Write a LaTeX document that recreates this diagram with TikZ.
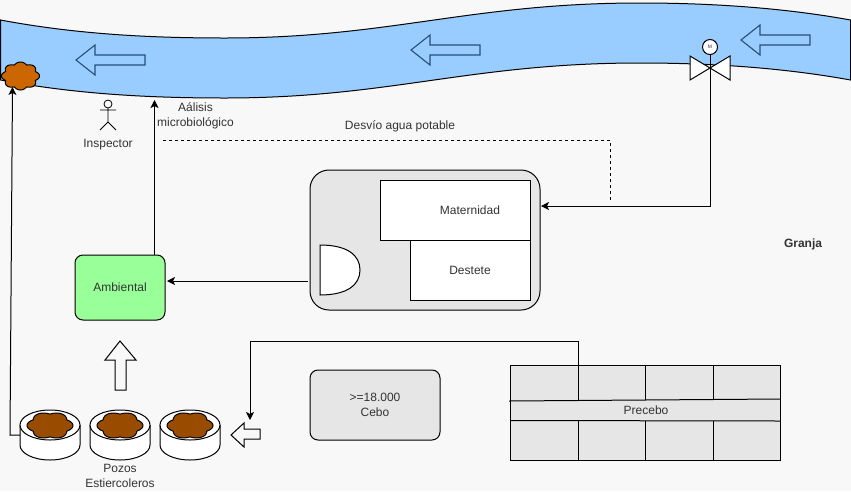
\documentclass[tikz,border=0pt]{standalone}
\usepackage{fontspec}
\setmainfont{Liberation Sans}
\usetikzlibrary{arrows.meta,calc}
\definecolor{bgc}{HTML}{F8F8F8}
\definecolor{river}{HTML}{99CCFF}
\definecolor{grayfill}{HTML}{E6E6E6}
\definecolor{txt}{HTML}{333333}
\definecolor{amb}{HTML}{99FF99}
\definecolor{waste}{HTML}{CC6600}
\definecolor{sludge}{HTML}{994C00}
\definecolor{flow}{HTML}{274F78}
\tikzset{
  lbl/.style={font=\fontsize{12}{15}\selectfont,text=txt,align=center,inner sep=0pt},
  box/.style={draw=black,line width=1pt,inner sep=0pt,outer sep=0pt,font=\fontsize{12}{15}\selectfont,text=txt,align=center},
  conn/.style={draw=black,line width=1pt,-{Stealth[length=8pt,width=8pt,inset=2pt]}},
  plain/.style={draw=black,line width=1pt},
  hollow/.style={draw=flow,line width=1.1pt,fill=river,line join=miter},
  hollowb/.style={draw=black,line width=1pt,fill=bgc,line join=miter},
  pit/.style={inner sep=0pt,outer sep=0pt,minimum width=60pt,minimum height=50pt}
}
% lobed blob: centre x, centre y, half width, half height, lobes/2, colour
\newcommand{\lobed}[6]{%
  \draw[plain,fill=#6,line join=round] plot[domain=0:360,samples=145] ({#1+#3*(0.84+0.16*abs(cos(#5*\x)))*cos(\x)},{#2+#4*(0.84+0.16*abs(cos(#5*\x)))*sin(\x)}) -- cycle;
}
\newcommand{\pitshape}[2]{% name, centre x
  \node[pit] (#1) at (#2,435) {};
  \draw[plain,fill=white] (#2-30,425) -- (#2-30,445) arc[start angle=180,end angle=0,x radius=30,y radius=15] -- (#2+30,425);
  \draw[plain,fill=white] (#2,425) ellipse[x radius=30,y radius=15];
  \lobed{#2}{425.5}{23}{13.5}{3}{sludge}
}
\begin{document}
\begin{tikzpicture}[x=1pt,y=-1pt]
\useasboundingbox (0,0) rectangle (851,491);
\fill[bgc] (0,0) rectangle (851,491);
% river
\fill[river] (0,20) .. controls (70,33) and (140,38) .. (225,38) .. controls (390,38) and (470,3) .. (640,3) .. controls (720,3) and (790,9) .. (851,20)
  -- (851,80) .. controls (790,69) and (720,63) .. (640,63) .. controls (470,63) and (390,98) .. (225,98) .. controls (140,98) and (70,93) .. (0,80) -- cycle;
\draw[plain] (0.5,80) -- (0.5,20) .. controls (70,33) and (140,38) .. (225,38) .. controls (390,38) and (470,3) .. (640,3) .. controls (720,3) and (790,9) .. (850.5,20) -- (850.5,80) .. controls (790,69) and (720,63) .. (640,63) .. controls (470,63) and (390,98) .. (225,98) .. controls (140,98) and (70,93) .. (0.5,80);
% flow arrows
\draw[hollow] (76,60) -- (95,45) -- (95,55) -- (145,55) -- (145,65) -- (95,65) -- (95,75) -- cycle;
\draw[hollow] (411,50) -- (430,35) -- (430,45) -- (480,45) -- (480,55) -- (430,55) -- (430,65) -- cycle;
\draw[hollow] (741,40) -- (760,25) -- (760,35) -- (810,35) -- (810,45) -- (760,45) -- (760,55) -- cycle;
% pits
\pitshape{pitA}{50}
\pitshape{pitB}{120}
\pitshape{pitC}{190}
\node[lbl] (pozos) at (120,476) {Pozos\\Estiercoleros};
% spill
\node[inner sep=0pt] (spill) at (20.5,76) {};
\lobed{20.5}{76}{19}{14}{4}{waste}
% inspector
\draw[plain,line width=0.8pt] (108,104) circle[radius=4];
\draw[plain,line width=0.8pt] (100,110) -- (116,110) (108,108) -- (108,122) (100,130) -- (108,122) -- (116,130);
\node[lbl] (inspector) at (108,145) {Inspector};
\node[lbl] (analisis) at (195.5,116) {Aálisis\\microbiológico};
\node[lbl] (desvio) at (400,126) {Desvío agua potable};
\node[lbl,font=\fontsize{12}{15}\selectfont\bfseries] (granja) at (803,244) {Granja};
% buildings
\node[box,fill=grayfill,rounded corners=19pt,minimum width=230pt,minimum height=140pt] (farm) at (425,240) {};
\node[box,fill=white,minimum width=150pt,minimum height=60pt] (mat) at (455,210) {};
\node[lbl] (matl) at (470,210.5) {Maternidad};
\node[box,fill=white,minimum width=120pt,minimum height=60pt] (des) at (470,270) {Destete};
\draw[plain,fill=white] (320,245) -- (320,295) .. controls (347,295) and (360,285) .. (360,270) .. controls (360,255) and (347,245) .. (320,245) -- cycle;
\node[box,fill=amb,rounded corners=8pt,minimum width=90pt,minimum height=65pt] (ambi) at (120,287.5) {Ambiental};
\node[box,fill=grayfill,rounded corners=8pt,minimum width=130pt,minimum height=70pt] (cebo) at (375,405) {>=18.000\\Cebo};
\node[box,fill=grayfill,minimum width=270pt,minimum height=95pt] (pre) at (645,412.5) {};
\node[lbl] (prel) at (646,410.5) {Precebo};
\draw[plain] (509,401) -- (780,399) (510,420.5) -- (780,421);
\draw[plain] (578,365) -- (578,400) (645,365) -- (645,400) (713,365) -- (713,400)
  (578,421) -- (578,460) (645,421) -- (645,460) (713,421) -- (713,460);
% hollow movement arrows
\draw[hollowb] (120,341) -- (136,360) -- (126,360) -- (126,390) -- (115,390) -- (115,360) -- (105,360) -- cycle;
\draw[hollowb] (231,435) -- (244,423) -- (244,429) -- (260,429) -- (260,439) -- (244,439) -- (244,447) -- cycle;
% connector end points
\coordinate (farmin) at (541,206);
\coordinate (farmout) at (308,281);
\coordinate (ambin) at (167,281);
\coordinate (spillin) at (12.5,87);
\coordinate (pitbend) at (10,435);
\coordinate (lab) at (154.5,100);
\coordinate (dash1) at (163,140);
\coordinate (dash2) at (610,140);
\coordinate (dash3) at (610,202);
\coordinate (prestart) at (578,365);
\coordinate (pretop) at (578,341);
\coordinate (prebend) at (250,341);
\coordinate (preend) at (250,420);
% valve
\coordinate (valve) at (710,68);
\draw[conn] (valve) |- (farmin);
\draw[plain,fill=white] (690,56) -- (730,80) -- (730,56) -- (690,80) -- cycle;
\node[draw=black,line width=1pt,fill=white,circle,minimum size=15pt,inner sep=0pt,font=\fontsize{5}{6}\selectfont,text=txt] (motor) at (710,47) {M};
\draw[plain] (motor) -- (valve);
% connectors
\draw[conn] (pitA.west) -- (pitbend) -- (spillin);
\draw[conn] (ambi.north -| lab) -- (lab);
\draw[conn] (farmout) -- (ambin);
\draw[plain,dash pattern=on 3pt off 3pt] (dash1) -- (dash2) -- (dash3);
\draw[conn] (prestart) -- (pretop) -- (prebend) -- (preend);
\end{tikzpicture}
\end{document}
